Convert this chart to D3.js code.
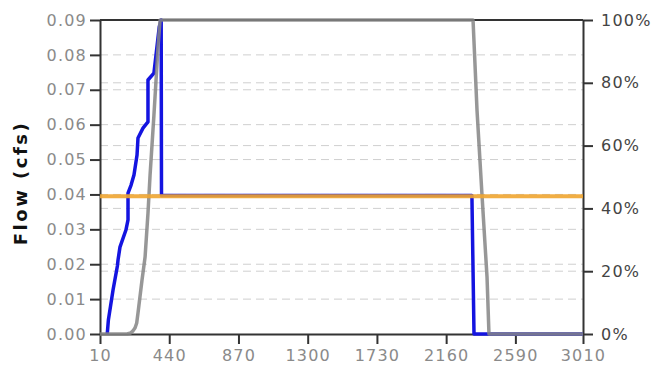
<!DOCTYPE html>
<html>
<head>
<meta charset="utf-8">
<script src="https://cdn.jsdelivr.net/npm/d3@7"></script>
<style>
  html, body { margin: 0; padding: 0; background: #fff; }
  svg { display: block; }
  .tick text { font-family: "DejaVu Sans", Verdana, sans-serif; letter-spacing: 1.2px; }
</style>
</head>
<body>
<svg id="chart" width="659" height="379"></svg>
<script>
// Axis ticks
const xTicks = [10, 440, 870, 1300, 1730, 2160, 2590, 3010];
const flowTicks = [0, 0.01, 0.02, 0.03, 0.04, 0.05, 0.06, 0.07, 0.08, 0.09];
const pctTicks = [0, 20, 40, 60, 80, 100];

// Flow series (cfs, left axis)
const flowX = [55, 62, 91, 118, 122, 134, 171, 184, 184, 203, 221, 240, 246, 277, 308, 308, 345, 378, 390, 392, 2320, 2333, 3010];
const flowY = [0, 0.004, 0.0126, 0.0195, 0.0212, 0.0249, 0.0298, 0.0327, 0.0404, 0.0427, 0.0456, 0.0513, 0.0562, 0.059, 0.0608, 0.0728, 0.0748, 0.088, 0.09, 0.0397, 0.0397, 0, 0];

// Percentage series (right axis)
const pctX = [10, 178, 200, 215, 228, 238, 246, 271, 290, 308, 321, 345, 370, 383, 2327, 2352, 2383, 2414, 2426, 3010];
const pctY = [0, 0, 0.3, 1.0, 2.0, 3.5, 6.7, 17.2, 24.5, 38.5, 50.6, 69.7, 91, 100, 100, 71, 44, 18, 0, 0];

// Constant threshold flow (cfs)
const thresholdX = [10, 3010];
const thresholdY = [0.0395, 0.0395];

const svg = d3.select("#chart");
const plotLeft = 100, plotRight = 583, plotTop = 20, plotBottom = 334;

const x = d3.scaleLinear().domain([10, 3010]).range([plotLeft, plotRight]);
const yFlow = d3.scaleLinear().domain([0, 0.09]).range([plotBottom, plotTop]);
const yPct = d3.scaleLinear().domain([0, 100]).range([plotBottom, plotTop]);

// Dashed gridlines for both vertical axes
const grid = svg.append("g").attr("stroke", "#cfcfcf").attr("stroke-width", 1).attr("stroke-dasharray", "8,5");
flowTicks.filter(t => t > 0 && t < 0.09).forEach(t => {
  grid.append("line").attr("x1", plotLeft).attr("x2", plotRight).attr("y1", yFlow(t)).attr("y2", yFlow(t));
});
pctTicks.filter(t => t > 0 && t < 100).forEach(t => {
  grid.append("line").attr("x1", plotLeft).attr("x2", plotRight).attr("y1", yPct(t)).attr("y2", yPct(t));
});

function styleAxis(g, color) {
  g.select(".domain").attr("stroke", "#333").attr("stroke-width", 2);
  g.selectAll(".tick line").attr("stroke", "#333").attr("stroke-width", 2);
  g.selectAll(".tick text").attr("fill", color).attr("font-size", 16);
}

svg.append("g").attr("transform", `translate(0,${plotBottom})`)
  .call(d3.axisBottom(x).tickValues(xTicks).tickFormat(d3.format("d")).tickSize(10).tickSizeOuter(0).tickPadding(6))
  .call(g => styleAxis(g, "#8a8a8a"));

svg.append("g").attr("transform", `translate(${plotLeft},0)`)
  .call(d3.axisLeft(yFlow).tickValues(flowTicks).tickFormat(d3.format(".2f")).tickSize(10).tickSizeOuter(0).tickPadding(3))
  .call(g => styleAxis(g, "#8a8a8a"));

svg.append("g").attr("transform", `translate(${plotRight},0)`)
  .call(d3.axisRight(yPct).tickValues(pctTicks).tickFormat(d => d + "%").tickSize(10).tickSizeOuter(0).tickPadding(8))
  .call(g => styleAxis(g, "#444"));

// Top frame line
svg.append("line").attr("x1", plotLeft).attr("x2", plotRight).attr("y1", plotTop).attr("y2", plotTop)
  .attr("stroke", "#333").attr("stroke-width", 2);

// Axis title
svg.append("text")
  .attr("transform", `translate(27,${(plotTop + plotBottom) / 2 + 6}) rotate(-90)`)
  .attr("text-anchor", "middle")
  .attr("font-family", "DejaVu Sans, Verdana, sans-serif")
  .attr("font-weight", "bold").attr("font-size", 18).attr("letter-spacing", "2.5px").attr("fill", "#111")
  .text("Flow (cfs)");

const flowLine = d3.line().x(d => x(d[0])).y(d => yFlow(d[1]));
const pctLine = d3.line().x(d => x(d[0])).y(d => yPct(d[1]));

svg.append("path").datum(d3.zip(flowX, flowY)).attr("d", flowLine)
  .attr("fill", "none").attr("stroke", "#1414e0").attr("stroke-width", 3.5).attr("stroke-linejoin", "round");

svg.append("path").datum(d3.zip(pctX, pctY)).attr("d", pctLine)
  .attr("fill", "none").attr("stroke", "#858585").attr("stroke-opacity", 0.85).attr("stroke-width", 3.5).attr("stroke-linejoin", "round");

svg.append("path").datum(d3.zip(thresholdX, thresholdY)).attr("d", flowLine)
  .attr("fill", "none").attr("stroke", "#f0a530").attr("stroke-opacity", 0.9).attr("stroke-width", 4);
</script>
</body>
</html>
